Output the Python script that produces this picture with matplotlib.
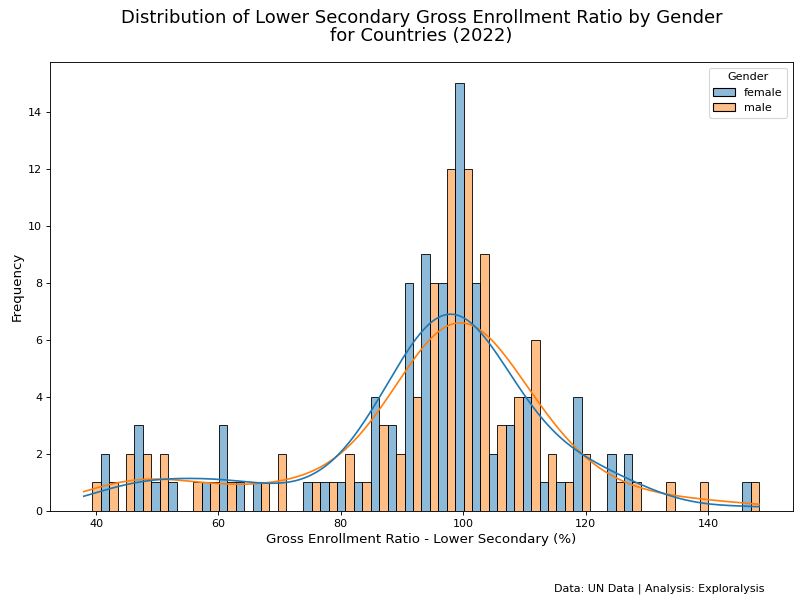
import numpy as np
import pandas as pd
import matplotlib
matplotlib.use("Agg")
import matplotlib.pyplot as plt
import seaborn as sns

# Data range (min / max observed ratio) and bin count
data_min = 38.0
data_max = 148.35
n_bins = 40

# Counts per bin
female_counts = [0, 2, 0, 3, 1, 1, 0, 1, 3, 1, 1, 0, 0, 1, 1, 1, 1, 4, 3, 8,
                 9, 8, 15, 8, 2, 3, 4, 1, 1, 4, 0, 2, 2, 0, 0, 0, 0, 0, 0, 1]
male_counts = [1, 1, 2, 2, 2, 0, 1, 1, 1, 0, 1, 2, 0, 1, 1, 2, 1, 3, 2, 4,
               8, 12, 12, 9, 3, 4, 6, 2, 1, 2, 0, 1, 1, 0, 1, 0, 1, 0, 0, 1]

edges = np.linspace(data_min, data_max, n_bins + 1)
centers = (edges[:-1] + edges[1:]) / 2
female_vals = np.repeat(centers, female_counts).astype(float)
male_vals = np.repeat(centers, male_counts).astype(float)
male_vals[0] = data_min
male_vals[-1] = data_max

df = pd.DataFrame({
    "ratio": np.concatenate([female_vals, male_vals]),
    "Gender": ["female"] * len(female_vals) + ["male"] * len(male_vals),
})

fig = plt.figure(figsize=(10, 7.5125), dpi=80)
ax = fig.add_axes([0.0625, 0.1498, 0.9285, 0.747])
sns.histplot(data=df, x="ratio", hue="Gender", hue_order=["female", "male"],
             bins=edges, multiple="dodge", kde=True, ax=ax)
ax.set_xlabel("Gross Enrollment Ratio - Lower Secondary (%)", fontsize=12)
ax.set_ylabel("Frequency", fontsize=12)
ax.set_title("Distribution of Lower Secondary Gross Enrollment Ratio by Gender\nfor Countries (2022)",
             fontsize=16.2, pad=19, linespacing=0.98)
fig.text(0.956, 0.016, "Data: UN Data | Analysis: Exploralysis", ha="right", fontsize=10)
fig.savefig("out.png", dpi=80)
